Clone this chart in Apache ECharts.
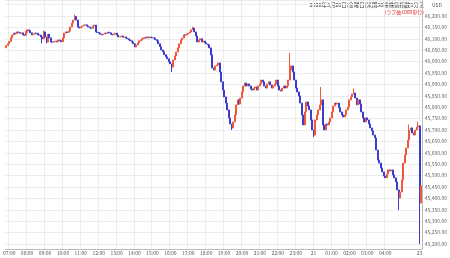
<!DOCTYPE html>
<html><head><meta charset="utf-8">
<script src="https://cdn.jsdelivr.net/npm/echarts@6/dist/echarts.min.js"></script>
<style>html,body{margin:0;padding:0;background:#fff}#c{width:450px;height:258px}</style>
</head><body><div id="c"></div>
<script>
const titleText = '2026年3月20日(金曜日)米国30種株価指数5分足';
const subText = '(ラフ軸1000単位)';
const unitText = 'USD';
const firstOpen = 46060;
const closes = [
46070,46078,46088,46104,46117,46125,46122,46130,46128,46124,46126,46118,46115,46128,46139,46135,46126,46117,46120,46125,
46124,46117,46116,46108,46100,46130,46108,46086,46120,46104,46086,46085,46088,46090,46086,46095,46092,46087,46104,46125,
46130,46128,46134,46152,46169,46182,46198,46182,46152,46147,46152,46156,46160,46161,46156,46152,46148,46146,46156,46160,
46130,46128,46125,46120,46117,46121,46125,46124,46129,46126,46120,46117,46121,46125,46116,46108,46109,46112,46107,46108,
46103,46100,46095,46091,46086,46078,46064,46073,46082,46091,46095,46100,46104,46103,46108,46104,46108,46105,46104,46103,
46096,46091,46078,46065,46051,46043,46030,46021,46012,45999,45990,45976,46007,46025,46042,46060,46078,46095,46103,46117,
46116,46121,46125,46130,46139,46147,46130,46112,46086,46095,46100,46086,46090,46082,46077,46073,46060,46029,45972,45963,
45981,45985,45994,45954,45911,45875,45845,45818,45788,45753,45726,45709,45735,45766,45810,45832,45814,45840,45867,45893,
45906,45893,45902,45893,45880,45875,45884,45889,45875,45893,45902,45919,45911,45893,45884,45902,45911,45897,45884,45893,
45902,45919,45893,45875,45871,45884,45893,45884,45893,45919,45963,45981,45954,45919,45884,45867,45849,45818,45766,45722,
45779,45823,45805,45788,45744,45700,45678,45744,45766,45788,45810,45832,45722,45700,45726,45722,45735,45753,45779,45805,
45818,45814,45818,45797,45779,45766,45757,45766,45788,45801,45832,45845,45858,45862,45840,45810,45832,45814,45779,45753,
45735,45753,45744,45726,45709,45696,45678,45665,45612,45568,45555,45533,45516,45498,45490,45507,45525,45520,45525,45503,
45490,45472,45437,45402,45428,45481,45555,45590,45621,45656,45700,45709,45687,45678,45700,45713,45718,45380,45455
];
// notable wick extremes (index -> price)
const highWicks = {13:46135,25:46136,46:46206,125:46153,190:46038,211:45889,233:45882,270:45724,276:45736};
const lowWicks = {24:46080,27:46080,111:45954,151:45700,206:45669,263:45349,277:45200};
const yTickLabelsMin = 45200, yTickLabelsMax = 46200;

// categories: 5-minute candle times
const categories = [];
(function(){
  let m = 6*60+50, day = 20;
  for (let i = 0; i < closes.length - 2; i++) {
    const hh = Math.floor(m/60)%24, mm = m%60;
    if (m >= 24*60 && day === 20) day = 21;
    categories.push('03/' + day + ' ' + String(hh).padStart(2,'0') + ':' + String(mm).padStart(2,'0'));
    m += 5;
  }
  categories.push('03/23 07:00');
  categories.push('03/23 07:05');
})();
const tickCats = ['03/20 07:00','03/20 08:00','03/20 09:00','03/20 10:00','03/20 11:00','03/20 12:00','03/20 13:00','03/20 14:00',
 '03/20 15:00','03/20 16:00','03/20 17:00','03/20 18:00','03/20 19:00','03/20 20:00','03/20 21:00','03/20 22:00','03/20 23:00',
 '03/21 00:00','03/21 01:00','03/21 02:00','03/21 03:00','03/21 04:00','03/23 07:00'];
const tickTexts = ['07:00','08:00','09:00','10:00','11:00','12:00','13:00','14:00','15:00','16:00','17:00','18:00','19:00',
 '20:00','21:00','22:00','23:00','21','01:00','02:00','03:00','04:00','23'];
const tickMap = {};
tickCats.forEach((c,i)=>tickMap[c]=tickTexts[i]);

const ohlc = closes.map((c,i)=>{
  const o = i === 0 ? firstOpen : closes[i-1];
  let lo = Math.min(o,c), hi = Math.max(o,c);
  if (lowWicks[i] !== undefined) lo = lowWicks[i];
  if (highWicks[i] !== undefined) hi = highWicks[i];
  return [o, c, lo, hi];
});

const FONT = '"Noto Sans CJK JP", "Noto Sans", sans-serif';
const chart = echarts.init(document.getElementById('c'), null, {renderer:'canvas'});
const isTick = (idx, val) => tickMap[val] !== undefined;
chart.setOption({
  animation:false,
  backgroundColor:'#fff',
  grid:{left:0, right:24, top:0, bottom:9},
  xAxis:{
    type:'category', data:categories, boundaryGap:true,
    axisLine:{show:true, lineStyle:{color:'#bbb', width:1}},
    axisTick:{show:false},
    axisLabel:{interval:isTick, formatter:(v)=>tickMap[v]||'', fontSize:5, color:'#555', margin:2, fontFamily:FONT},
    splitLine:{show:true, interval:isTick, lineStyle:{color:'#ececec', width:1}}
  },
  yAxis:{
    type:'value', position:'right', min:45178, max:46270, splitNumber:20, scale:true,
    axisLine:{show:true, lineStyle:{color:'#bbb'}},
    axisTick:{show:false},
    axisLabel:{fontSize:5, color:'#666', margin:3, fontFamily:FONT,
      formatter:(v)=>{
        if (Math.abs(v % 50) > 1e-6 || v < yTickLabelsMin || v > yTickLabelsMax) return '';
        return v.toLocaleString('en-US',{minimumFractionDigits:2, maximumFractionDigits:2});
      }},
    splitLine:{show:true, lineStyle:{color:'#ececec', width:1}}
  },
  series:[{
    type:'candlestick', data:ohlc, barWidth:1.5,
    itemStyle:{color:'#f0583c', color0:'#3c3ccf', borderColor:'#f0583c', borderColor0:'#3c3ccf', borderWidth:1}
  }],
  graphic:[
    {type:'text', right:26, top:2.5, style:{text:titleText, fontSize:5.4, fill:'#333', fontFamily:FONT}},
    {type:'text', right:26, top:9.5, style:{text:subText, fontSize:5, fill:'#e0302c', fontFamily:FONT}},
    {type:'text', left:432, top:3, style:{text:unitText, fontSize:5, fill:'#555', fontFamily:FONT}}
  ]
});
</script></body></html>
